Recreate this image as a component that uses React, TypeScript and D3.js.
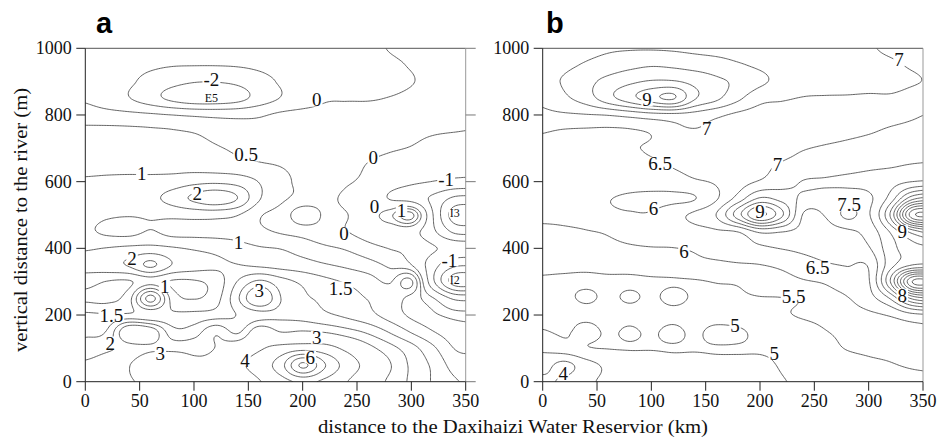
import React from 'react';
import * as d3 from 'd3';

// ---------- data ----------
const GRID_X = [0, 20, 40, 60, 80, 100, 120, 140, 160, 180, 200, 220, 240, 260, 280, 300, 320, 340, 360];
const GRID_Y = [1000, 950, 900, 850, 800, 750, 700, 650, 600, 550, 500, 450, 400, 350, 300, 250, 200, 150, 100, 50, 0];

const X_TICKS = [0, 50, 100, 150, 200, 250, 300, 350];
const Y_TICKS = [0, 200, 400, 600, 800, 1000];

const A_LEVELS = [-5, -4, -3, -2, -1, 0, 0.5, 1, 1.5, 2, 2.5, 3, 4, 5, 6, 7, 8];
const B_LEVELS = [3.5, 4, 4.5, 5, 5.5, 6, 6.5, 7, 7.5, 8, 8.5, 9, 9.5, 10, 10.5, 11, 11.5, 12, 12.5, 13];

// panel a: rows from y=1000 down to y=0, columns x=0..360 step 20
const A_ROWS = [
  [-0.35, -0.45, -0.55, -0.65, -0.75, -0.8, -0.8, -0.75, -0.65, -0.55, -0.45, -0.35, -0.25, -0.12, 0.02, 0.1, 0.15, 0.2, 0.2],
  [-0.35, -0.5, -0.7, -0.85, -0.95, -0.97, -0.97, -0.93, -0.82, -0.65, -0.5, -0.38, -0.28, -0.18, -0.08, 0.03, 0.12, 0.18, 0.2],
  [-0.3, -0.5, -0.85, -1.3, -1.7, -1.95, -1.97, -1.8, -1.35, -0.9, -0.6, -0.45, -0.35, -0.25, -0.15, -0.02, 0.1, 0.15, 0.2],
  [-0.1, -0.45, -0.95, -1.6, -2.25, -2.65, -2.65, -2.35, -1.6, -0.95, -0.5, -0.1, -0.06, -0.05, 0.02, 0.1, 0.15, 0.2, 0.2],
  [0.3, 0.25, 0.2, 0.12, 0.0, -0.12, -0.2, -0.2, -0.1, 0.15, 0.25, 0.22, 0.25, 0.25, 0.25, 0.25, 0.25, 0.25, 0.25],
  [0.6, 0.6, 0.58, 0.56, 0.54, 0.47, 0.3, 0.15, 0.1, 0.15, 0.22, 0.25, 0.22, 0.18, 0.14, 0.1, 0.05, 0.01, -0.05],
  [0.75, 0.75, 0.73, 0.72, 0.7, 0.65, 0.55, 0.42, 0.35, 0.3, 0.28, 0.25, 0.2, 0.12, 0.05, -0.03, -0.2, -0.4, -0.5],
  [0.9, 0.9, 0.88, 0.85, 0.82, 0.78, 0.72, 0.65, 0.55, 0.48, 0.38, 0.28, 0.15, -0.02, -0.2, -0.38, -0.6, -0.75, -0.8],
  [1.03, 1.05, 1.08, 1.12, 1.2, 1.35, 1.4, 1.3, 0.98, 0.62, 0.4, 0.22, 0.05, -0.12, -0.55, -0.85, -1.02, -1.2, -1.25],
  [1.05, 1.08, 1.15, 1.35, 1.7, 2.1, 2.35, 2.0, 1.05, 0.6, 0.35, 0.12, -0.08, -0.35, -1.05, -1.4, -2.2, -3.2, -3.3],
  [1.15, 1.05, 1.02, 1.05, 1.1, 1.15, 1.15, 1.02, 0.55, 0.3, -0.3, 0.05, 0.02, -0.25, 0.35, 1.2, -2.0, -4.5, -4.6],
  [1.1, 0.9, 0.85, 1.03, 0.85, 0.85, 0.85, 0.82, 0.6, 0.45, 0.3, 0.15, 0.02, -0.25, -0.5, -0.6, -1.8, -3.2, -3.3],
  [1.45, 1.52, 1.6, 1.65, 1.55, 1.45, 1.35, 1.2, 1.05, 0.98, 0.8, 0.6, 0.45, 0.2, -0.02, -0.2, -0.9, -1.3, -1.4],
  [1.7, 1.85, 2.05, 2.6, 1.98, 1.75, 1.6, 1.52, 1.4, 1.3, 1.2, 1.05, 0.9, 0.7, 0.4, 0.02, -1.6, -2.8, -2.9],
  [1.2, 0.98, 0.95, 1.3, 0.95, 0.95, 1.2, 2.02, 2.6, 2.2, 1.9, 1.65, 1.45, 1.25, 0.95, 1.6, -1.8, -4.5, -4.5],
  [0.9, 0.85, 1.3, 3.2, 1.3, 0.98, 1.3, 2.4, 3.6, 2.5, 2.1, 1.9, 1.7, 1.48, 1.3, 0.8, 0.05, -1.2, -1.3],
  [1.6, 1.55, 1.6, 1.6, 1.6, 1.65, 1.75, 2.02, 2.3, 2.4, 2.3, 2.1, 1.9, 1.65, 1.3, 0.9, 0.6, 0.3, 0.25],
  [1.9, 2.05, 3.6, 3.4, 2.2, 2.25, 2.9, 2.4, 3.4, 2.98, 3.05, 2.95, 2.7, 2.4, 1.95, 1.45, 1.02, 0.7, 0.6],
  [2.2, 2.4, 2.7, 2.9, 2.85, 2.85, 3.02, 3.5, 3.9, 4.3, 4.6, 4.4, 3.8, 3.2, 2.7, 2.2, 1.6, 0.98, 0.9],
  [2.6, 2.8, 2.97, 3.6, 3.55, 3.1, 3.2, 3.8, 4.4, 5.6, 8.2, 6.1, 4.6, 3.7, 3.05, 2.4, 1.9, 1.3, 1.2],
  [2.7, 2.85, 2.96, 3.1, 3.1, 3.03, 3.1, 3.5, 3.95, 4.6, 5.2, 4.8, 4.05, 3.4, 2.9, 2.4, 1.95, 1.55, 1.4],
];

// panel b: rows from y=1000 down to y=0, columns x=0..360 step 20
const B_ROWS = [
  [7.2, 7.3, 7.38, 7.45, 7.47, 7.47, 7.45, 7.4, 7.35, 7.3, 7.25, 7.2, 7.17, 7.12, 7.08, 7.02, 6.97, 6.93, 6.9],
  [7.25, 7.4, 7.55, 7.7, 7.85, 7.95, 7.9, 7.8, 7.7, 7.55, 7.42, 7.3, 7.22, 7.15, 7.1, 7.06, 7.03, 6.98, 6.95],
  [7.35, 7.55, 7.85, 8.15, 8.4, 8.55, 8.55, 8.35, 8.1, 7.9, 7.6, 7.35, 7.2, 7.15, 7.12, 7.1, 7.08, 7.02, 6.98],
  [7.1, 7.4, 7.75, 8.3, 8.8, 9.3, 9.55, 8.55, 8.1, 7.6, 7.15, 7.05, 6.98, 6.97, 6.97, 6.96, 6.97, 6.93, 6.9],
  [6.9, 6.93, 6.97, 7.02, 7.15, 7.3, 7.35, 7.3, 7.1, 6.9, 6.8, 6.8, 6.82, 6.85, 6.87, 6.9, 6.93, 6.97, 7.02],
  [6.52, 6.45, 6.42, 6.4, 6.43, 6.55, 6.85, 6.95, 6.85, 6.75, 6.7, 6.7, 6.72, 6.82, 6.9, 6.97, 7.05, 7.1, 7.15],
  [6.45, 6.4, 6.38, 6.38, 6.45, 6.55, 6.62, 6.68, 6.75, 6.8, 6.85, 6.92, 6.98, 7.05, 7.12, 7.2, 7.28, 7.35, 7.4],
  [6.4, 6.35, 6.33, 6.32, 6.35, 6.43, 6.53, 6.62, 6.7, 6.8, 6.9, 7.03, 7.1, 7.2, 7.3, 7.4, 7.45, 7.52, 7.55],
  [6.3, 6.28, 6.25, 6.23, 6.22, 6.25, 6.32, 6.45, 6.55, 6.8, 7.05, 7.3, 7.52, 7.55, 7.6, 7.65, 7.8, 8.0, 8.1],
  [6.2, 6.15, 6.1, 6.02, 5.93, 5.87, 5.88, 5.98, 6.45, 7.2, 8.05, 7.8, 7.4, 7.3, 7.3, 7.4, 8.2, 9.8, 10.2],
  [6.08, 6.06, 6.05, 6.04, 6.03, 6.05, 6.35, 6.6, 7.02, 8.3, 9.6, 8.6, 6.95, 7.03, 7.62, 7.45, 9.05, 12.3, 12.5],
  [5.92, 5.96, 5.99, 6.02, 6.1, 6.18, 6.25, 6.33, 6.43, 6.52, 7.1, 7.02, 6.85, 6.8, 6.9, 7.2, 8.05, 9.2, 9.8],
  [5.75, 5.8, 5.85, 5.9, 5.95, 5.98, 5.99, 6.05, 6.2, 6.3, 6.4, 6.52, 6.6, 6.65, 6.7, 6.95, 7.8, 8.3, 8.4],
  [5.58, 5.6, 5.62, 5.66, 5.7, 5.75, 5.8, 5.88, 5.9, 5.95, 5.99, 6.1, 6.3, 6.45, 6.52, 6.55, 7.8, 8.5, 8.6],
  [5.45, 5.42, 5.4, 5.4, 5.4, 5.42, 5.45, 5.46, 5.52, 5.55, 5.7, 5.8, 5.95, 6.05, 6.25, 6.45, 8.5, 11.5, 11.5],
  [5.3, 5.35, 5.6, 5.38, 5.58, 5.4, 5.65, 5.42, 5.42, 5.45, 5.48, 5.49, 5.55, 5.8, 5.97, 6.3, 7.05, 8.6, 9.0],
  [5.1, 5.12, 5.15, 5.17, 5.18, 5.2, 5.22, 5.25, 5.28, 5.32, 5.38, 5.45, 5.55, 5.65, 5.8, 5.9, 6.05, 6.35, 6.45],
  [4.97, 5.05, 4.88, 5.05, 4.95, 5.05, 4.9, 5.08, 4.85, 4.92, 5.15, 5.25, 5.3, 5.48, 5.6, 5.7, 5.78, 5.85, 5.9],
  [4.6, 4.8, 4.97, 5.01, 5.02, 5.02, 5.03, 5.03, 5.03, 5.03, 5.04, 5.08, 5.15, 5.35, 5.52, 5.58, 5.6, 5.65, 5.7],
  [4.2, 3.85, 4.3, 4.6, 4.75, 4.8, 4.85, 4.88, 4.9, 4.92, 4.95, 5.02, 5.1, 5.2, 5.3, 5.42, 5.48, 5.53, 5.55],
  [3.9, 4.1, 4.4, 4.6, 4.75, 4.8, 4.85, 4.9, 4.92, 4.95, 4.98, 4.99, 5.05, 5.15, 5.25, 5.35, 5.38, 5.42, 5.45],
];

// contour labels: [text, km, m]
const A_LABELS: [string, number, number][] = [
  ['-2', 116, 905], ['0', 213, 845], ['0.5', 148, 680], ['0', 265, 671], ['1', 52, 625],
  ['2', 103, 565], ['-1', 332, 605], ['0', 266, 525], ['1', 291, 512], ['0', 238, 445],
  ['1', 141, 419], ['2', 43, 370], ['-1', 335, 365], ['1', 73, 285], ['3', 160, 275],
  ['1.5', 235, 281], ['1.5', 24, 200], ['2', 23, 116], ['3', 69, 85], ['3', 213, 133],
  ['4', 147, 65], ['6', 207, 74],
];
const A_WELLS: [string, number, number][] = [['E5', 116, 852], ['I3', 340, 505], ['I2', 340, 305]];

const B_LABELS: [string, number, number][] = [
  ['9', 96, 845], ['7', 151, 760], ['7', 328, 965], ['6.5', 108, 655], ['7', 216, 650],
  ['6', 102, 520], ['9', 200, 510], ['7.5', 282, 530], ['9', 331, 450], ['6', 130, 390],
  ['6.5', 253, 344], ['5.5', 231, 255], ['8', 331, 260], ['5', 177, 170], ['5', 213, 85], ['4', 19, 25],
];
const B_WELLS: [string, number, number][] = [];

// ---------- helpers ----------
const PLOT_TOP = 48.3;
const PLOT_BOTTOM = 381.7;
const SERIF = "'Liberation Serif', 'Times New Roman', serif";

function cr(p0: number, p1: number, p2: number, p3: number, t: number) {
  return 0.5 * (2 * p1 + (-p0 + p2) * t + (2 * p0 - 5 * p1 + 4 * p2 - p3) * t * t + (-p0 + 3 * p1 - 3 * p2 + p3) * t * t * t);
}

function sampleGrid(rows: number[][], gx: number, gy: number) {
  const nr = rows.length;
  const nc = rows[0].length;
  const i = Math.min(nc - 2, Math.floor(gx));
  const j = Math.min(nr - 2, Math.floor(gy));
  const tx = gx - i;
  const ty = gy - j;
  const ci = (k: number) => Math.max(0, Math.min(nc - 1, k));
  const ri = (k: number) => Math.max(0, Math.min(nr - 1, k));
  const rv: number[] = [];
  for (let m = -1; m <= 2; m++) {
    const r = rows[ri(j + m)];
    rv.push(cr(r[ci(i - 1)], r[ci(i)], r[ci(i + 1)], r[ci(i + 2)], tx));
  }
  return cr(rv[0], rv[1], rv[2], rv[3], ty);
}

function buildContours(rows: number[][], levels: number[], xS: any, yS: any) {
  const xMax = GRID_X[GRID_X.length - 1];
  const yMax = GRID_Y[0];
  const dxG = GRID_X[1] - GRID_X[0];
  const dyG = GRID_Y[0] - GRID_Y[1];
  const FX0 = -6, FDX = 1.5, NX = 247;
  const FY0 = 1016, FDY = 4, NY = 259;
  const vals: number[] = new Array(NX * NY);
  for (let j = 0; j < NY; j++) {
    const y = Math.max(0, Math.min(yMax, FY0 - j * FDY));
    const gy = (yMax - y) / dyG;
    for (let i = 0; i < NX; i++) {
      const x = Math.max(0, Math.min(xMax, FX0 + i * FDX));
      vals[j * NX + i] = sampleGrid(rows, x / dxG, gy);
    }
  }
  const cs = d3.contours().size([NX, NY]).thresholds(levels)(vals);
  return cs.map((c: any) => {
    let d = '';
    for (const poly of c.coordinates) {
      for (const ring of poly) {
        d += 'M' + ring.map(([cx, cy]: number[]) =>
          `${xS(FX0 + (cx - 0.5) * FDX).toFixed(2)},${yS(FY0 - (cy - 0.5) * FDY).toFixed(2)}`).join('L') + 'Z';
      }
    }
    return { value: c.value, d };
  });
}

function textWidth(s: string, size: number) {
  let w = 0;
  for (const ch of s) {
    if (ch === '.') w += 0.25;
    else if (ch === '-') w += 0.33;
    else if (ch === 'E') w += 0.61;
    else if (ch === 'I') w += 0.33;
    else w += 0.5;
  }
  return w * size;
}

function Panel(props: {
  id: string; x0: number; x1: number; rows: number[][]; levels: number[];
  labels: [string, number, number][]; wells: [string, number, number][];
  letter: string; letterX: number; rightTicks: boolean;
}) {
  const { id, x0, x1, rows, levels, labels, wells, letter, letterX, rightTicks } = props;
  const xS = d3.scaleLinear().domain([0, 350]).range([x0, x1]);
  const yS = d3.scaleLinear().domain([0, 1000]).range([PLOT_BOTTOM, PLOT_TOP]);
  const paths = React.useMemo(() => buildContours(rows, levels, xS, yS), [rows, levels, x0, x1]);
  const lblSize = 19;
  return (
    <g>
      <defs>
        <clipPath id={`clip-${id}`}>
          <rect x={x0} y={PLOT_TOP} width={x1 - x0} height={PLOT_BOTTOM - PLOT_TOP} />
        </clipPath>
      </defs>
      <g clipPath={`url(#clip-${id})`}>
        {paths.map((p: any, k: number) => (
          <path key={k} d={p.d} fill="none" stroke="#3c3c3c" strokeWidth={0.8} strokeLinejoin="round" />
        ))}
        {labels.map(([t, kx, my], k) => {
          const w = textWidth(t, lblSize);
          return (
            <g key={`l${k}`}>
              <rect x={xS(kx) - w / 2 - 1} y={yS(my) - 6.5} width={w + 2} height={13} fill="#fff" />
              <text x={xS(kx)} y={yS(my) + 6.5} textAnchor="middle" fontFamily={SERIF} fontSize={lblSize} fill="#111">{t}</text>
            </g>
          );
        })}
        {wells.map(([t, kx, my], k) => {
          const w = textWidth(t, 12);
          return (
            <g key={`w${k}`}>
              <rect x={xS(kx) - w / 2 - 1} y={yS(my) - 4} width={w + 2} height={8} fill="#fff" />
              <text x={xS(kx)} y={yS(my) + 4} textAnchor="middle" fontFamily={SERIF} fontSize={12} fill="#111">{t}</text>
            </g>
          );
        })}
      </g>
      {/* frame */}
      <line x1={x0} x2={x1} y1={PLOT_TOP} y2={PLOT_TOP} stroke="#555" strokeWidth={1} />
      <line x1={x1} x2={x1} y1={PLOT_TOP} y2={PLOT_BOTTOM} stroke="#999" strokeWidth={1} />
      <line x1={x0} x2={x0} y1={PLOT_TOP} y2={PLOT_BOTTOM} stroke="#222" strokeWidth={1} />
      <line x1={x0} x2={x1} y1={PLOT_BOTTOM} y2={PLOT_BOTTOM} stroke="#222" strokeWidth={1} />
      {Y_TICKS.map((t) => (
        <g key={`yt${t}`}>
          <line x1={x0 - 9} x2={x0} y1={yS(t)} y2={yS(t)} stroke="#222" strokeWidth={1} />
          {rightTicks && <line x1={x1} x2={x1 + 10} y1={yS(t)} y2={yS(t)} stroke="#777" strokeWidth={1} />}
          <text x={x0 - 13.5} y={yS(t) + 6} textAnchor="end" fontFamily={SERIF} fontSize={18} fill="#111">{t}</text>
        </g>
      ))}
      {X_TICKS.map((t) => (
        <g key={`xt${t}`}>
          <line x1={xS(t)} x2={xS(t)} y1={PLOT_BOTTOM} y2={PLOT_BOTTOM + 9} stroke="#222" strokeWidth={1} />
          <text x={xS(t)} y={407} textAnchor="middle" fontFamily={SERIF} fontSize={18} fill="#111">{t}</text>
        </g>
      ))}
      <text x={letterX} y={33} fontFamily="'Liberation Sans', Arial, sans-serif" fontWeight="bold" fontSize={29} fill="#000">{letter}</text>
    </g>
  );
}

export default function App() {
  return (
    <svg width={937} height={438} viewBox="0 0 937 438" style={{ position: 'absolute', left: 0, top: 0, background: '#fff' }}>
      <rect x={0} y={0} width={937} height={438} fill="#fff" />
      <Panel id="a" x0={85.3} x1={465.7} rows={A_ROWS} levels={A_LEVELS} labels={A_LABELS} wells={A_WELLS}
        letter="a" letterX={96} rightTicks={true} />
      <Panel id="b" x0={542.7} x1={923} rows={B_ROWS} levels={B_LEVELS} labels={B_LABELS} wells={B_WELLS}
        letter="b" letterX={546} rightTicks={false} />
      <text x={513} y={433} textAnchor="middle" fontFamily={SERIF} fontSize={19} fill="#111"
        textLength={390} lengthAdjust="spacingAndGlyphs">distance to the Daxihaizi Water Reservior (km)</text>
      <text transform="translate(27,220) rotate(-90)" textAnchor="middle" fontFamily={SERIF} fontSize={18.5} fill="#111"
        textLength={264} lengthAdjust="spacingAndGlyphs">vertical distance to the river (m)</text>
    </svg>
  );
}
